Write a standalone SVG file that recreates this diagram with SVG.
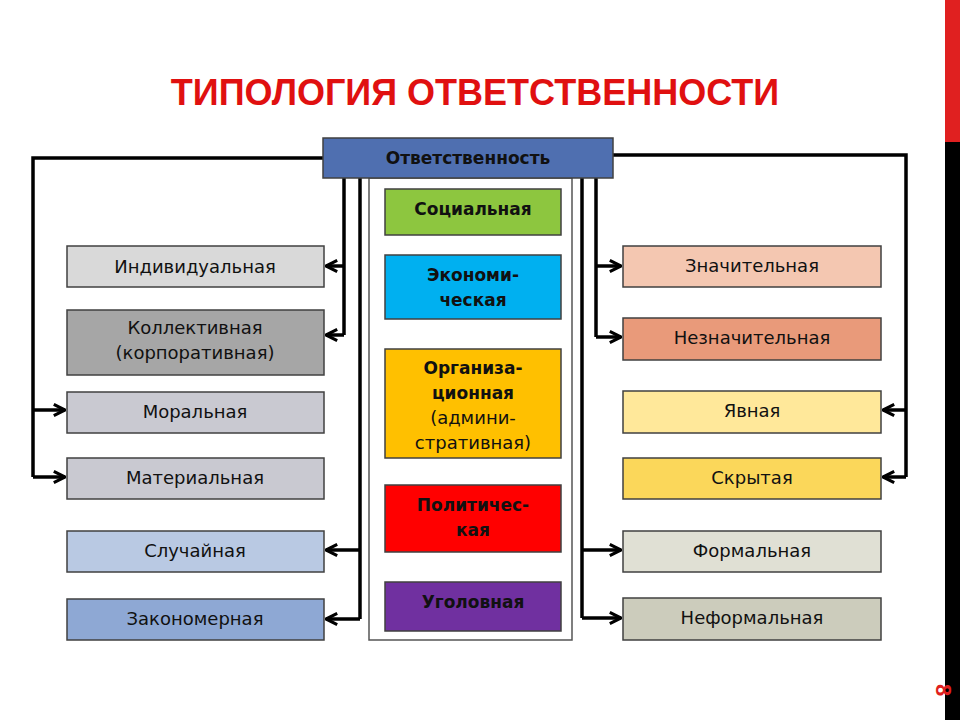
<svg xmlns="http://www.w3.org/2000/svg" width="960" height="720" viewBox="0 0 960 720">
<defs>
<marker id="ar" viewBox="0 0 10 10" refX="9" refY="5" markerWidth="4" markerHeight="4" orient="auto" markerUnits="strokeWidth">
<polyline points="1,1 9,5 1,9" fill="none" stroke="#000" stroke-width="2.2"/>
</marker>
<style>
.b{stroke:#404040;stroke-width:1.5}
.t{font-family:"DejaVu Sans",sans-serif;font-size:18px;fill:#111;text-anchor:middle}
.c{font-family:"DejaVu Sans",sans-serif;font-size:17px;font-weight:bold;fill:#111;text-anchor:middle}
.l{fill:none;stroke:#000;stroke-width:3.5}
</style>
</defs>
<rect width="960" height="720" fill="#fff"/>
<rect x="945" y="0" width="15" height="720" fill="#000"/>
<rect x="945" y="0" width="15" height="142" fill="#e02020"/>
<text x="936" y="690" transform="rotate(90 936 690)" font-family="Liberation Sans,sans-serif" font-weight="bold" font-size="22" fill="#e02020" text-anchor="middle">8</text>
<text x="475" y="105" font-family="Liberation Sans,sans-serif" font-weight="bold" font-size="36" fill="#e01010" text-anchor="middle">ТИПОЛОГИЯ ОТВЕТСТВЕННОСТИ</text>
<rect x="369" y="178" width="203" height="462" fill="#fff" stroke="#555" stroke-width="1.5"/>
<g id="connectors">
<polyline class="l" points="323,158 33,158 33,477"/>
<line class="l" x1="33" y1="410" x2="65" y2="410" marker-end="url(#ar)"/>
<line class="l" x1="33" y1="477" x2="65" y2="477" marker-end="url(#ar)"/>
<polyline class="l" points="344,178 344,335"/>
<line class="l" x1="344" y1="266" x2="326" y2="266" marker-end="url(#ar)"/>
<line class="l" x1="344" y1="335" x2="326" y2="335" marker-end="url(#ar)"/>
<polyline class="l" points="360,178 360,619"/>
<line class="l" x1="360" y1="550" x2="326" y2="550" marker-end="url(#ar)"/>
<line class="l" x1="360" y1="619" x2="326" y2="619" marker-end="url(#ar)"/>
<polyline class="l" points="582,178 582,618"/>
<line class="l" x1="582" y1="550" x2="621" y2="550" marker-end="url(#ar)"/>
<line class="l" x1="582" y1="618" x2="621" y2="618" marker-end="url(#ar)"/>
<polyline class="l" points="596,178 596,337"/>
<line class="l" x1="596" y1="266" x2="621" y2="266" marker-end="url(#ar)"/>
<line class="l" x1="596" y1="337" x2="621" y2="337" marker-end="url(#ar)"/>
<polyline class="l" points="613,155 906,155 906,477"/>
<line class="l" x1="906" y1="410" x2="883" y2="410" marker-end="url(#ar)"/>
<line class="l" x1="906" y1="477" x2="883" y2="477" marker-end="url(#ar)"/>
</g>
<g id="root"><rect class="b" x="323" y="138" width="290" height="40" fill="#4f6fb0"/><text class="c" x="468" y="164">Ответственность</text></g>
<g id="soc"><rect class="b" x="385" y="189" width="176" height="46" fill="#8dc63f"/><text class="c" x="473" y="215">Социальная</text></g>
<g id="eco"><rect class="b" x="385" y="255" width="176" height="64" fill="#00b0f0"/><text class="c" x="473" y="281">Экономи-</text><text class="c" x="473" y="306">ческая</text></g>
<g id="org"><rect class="b" x="385" y="349" width="176" height="109" fill="#ffc000"/><text class="c" x="473" y="374">Организа-</text><text class="c" x="473" y="399">ционная</text><text class="t" x="473" y="424">(админи-</text><text class="t" x="473" y="449">стративная)</text></g>
<g id="pol"><rect class="b" x="385" y="485" width="176" height="67" fill="#ff0000"/><text class="c" x="473" y="511">Политичес-</text><text class="c" x="473" y="536">кая</text></g>
<g id="ugol"><rect class="b" x="385" y="582" width="176" height="49" fill="#7030a0"/><text class="c" x="473" y="608">Уголовная</text></g>
<g id="ind"><rect class="b" x="67" y="246" width="257" height="41" fill="#d9d9d9"/><text class="t" x="195" y="273">Индивидуальная</text></g>
<g id="kol"><rect class="b" x="67" y="310" width="257" height="65" fill="#a6a6a6"/><text class="t" x="195" y="334">Коллективная</text><text class="t" x="195" y="359">(корпоративная)</text></g>
<g id="mor"><rect class="b" x="67" y="392" width="257" height="41" fill="#c9c9d1"/><text class="t" x="195" y="418">Моральная</text></g>
<g id="mat"><rect class="b" x="67" y="458" width="257" height="41" fill="#c9c9d1"/><text class="t" x="195" y="484">Материальная</text></g>
<g id="slu"><rect class="b" x="67" y="531" width="257" height="41" fill="#b9c9e3"/><text class="t" x="195" y="557">Случайная</text></g>
<g id="zak"><rect class="b" x="67" y="599" width="257" height="41" fill="#8ea8d4"/><text class="t" x="195" y="625">Закономерная</text></g>
<g id="zn"><rect class="b" x="623" y="246" width="258" height="41" fill="#f4c7b1"/><text class="t" x="752" y="272">Значительная</text></g>
<g id="nezn"><rect class="b" x="623" y="318" width="258" height="42" fill="#e99a7a"/><text class="t" x="752" y="344">Незначительная</text></g>
<g id="yav"><rect class="b" x="623" y="391" width="258" height="42" fill="#ffe89a"/><text class="t" x="752" y="417">Явная</text></g>
<g id="skr"><rect class="b" x="623" y="458" width="258" height="41" fill="#fbd75a"/><text class="t" x="752" y="484">Скрытая</text></g>
<g id="for"><rect class="b" x="623" y="531" width="258" height="41" fill="#e0e0d4"/><text class="t" x="752" y="557">Формальная</text></g>
<g id="nefor"><rect class="b" x="623" y="598" width="258" height="42" fill="#ccccbc"/><text class="t" x="752" y="624">Неформальная</text></g>
</svg>
